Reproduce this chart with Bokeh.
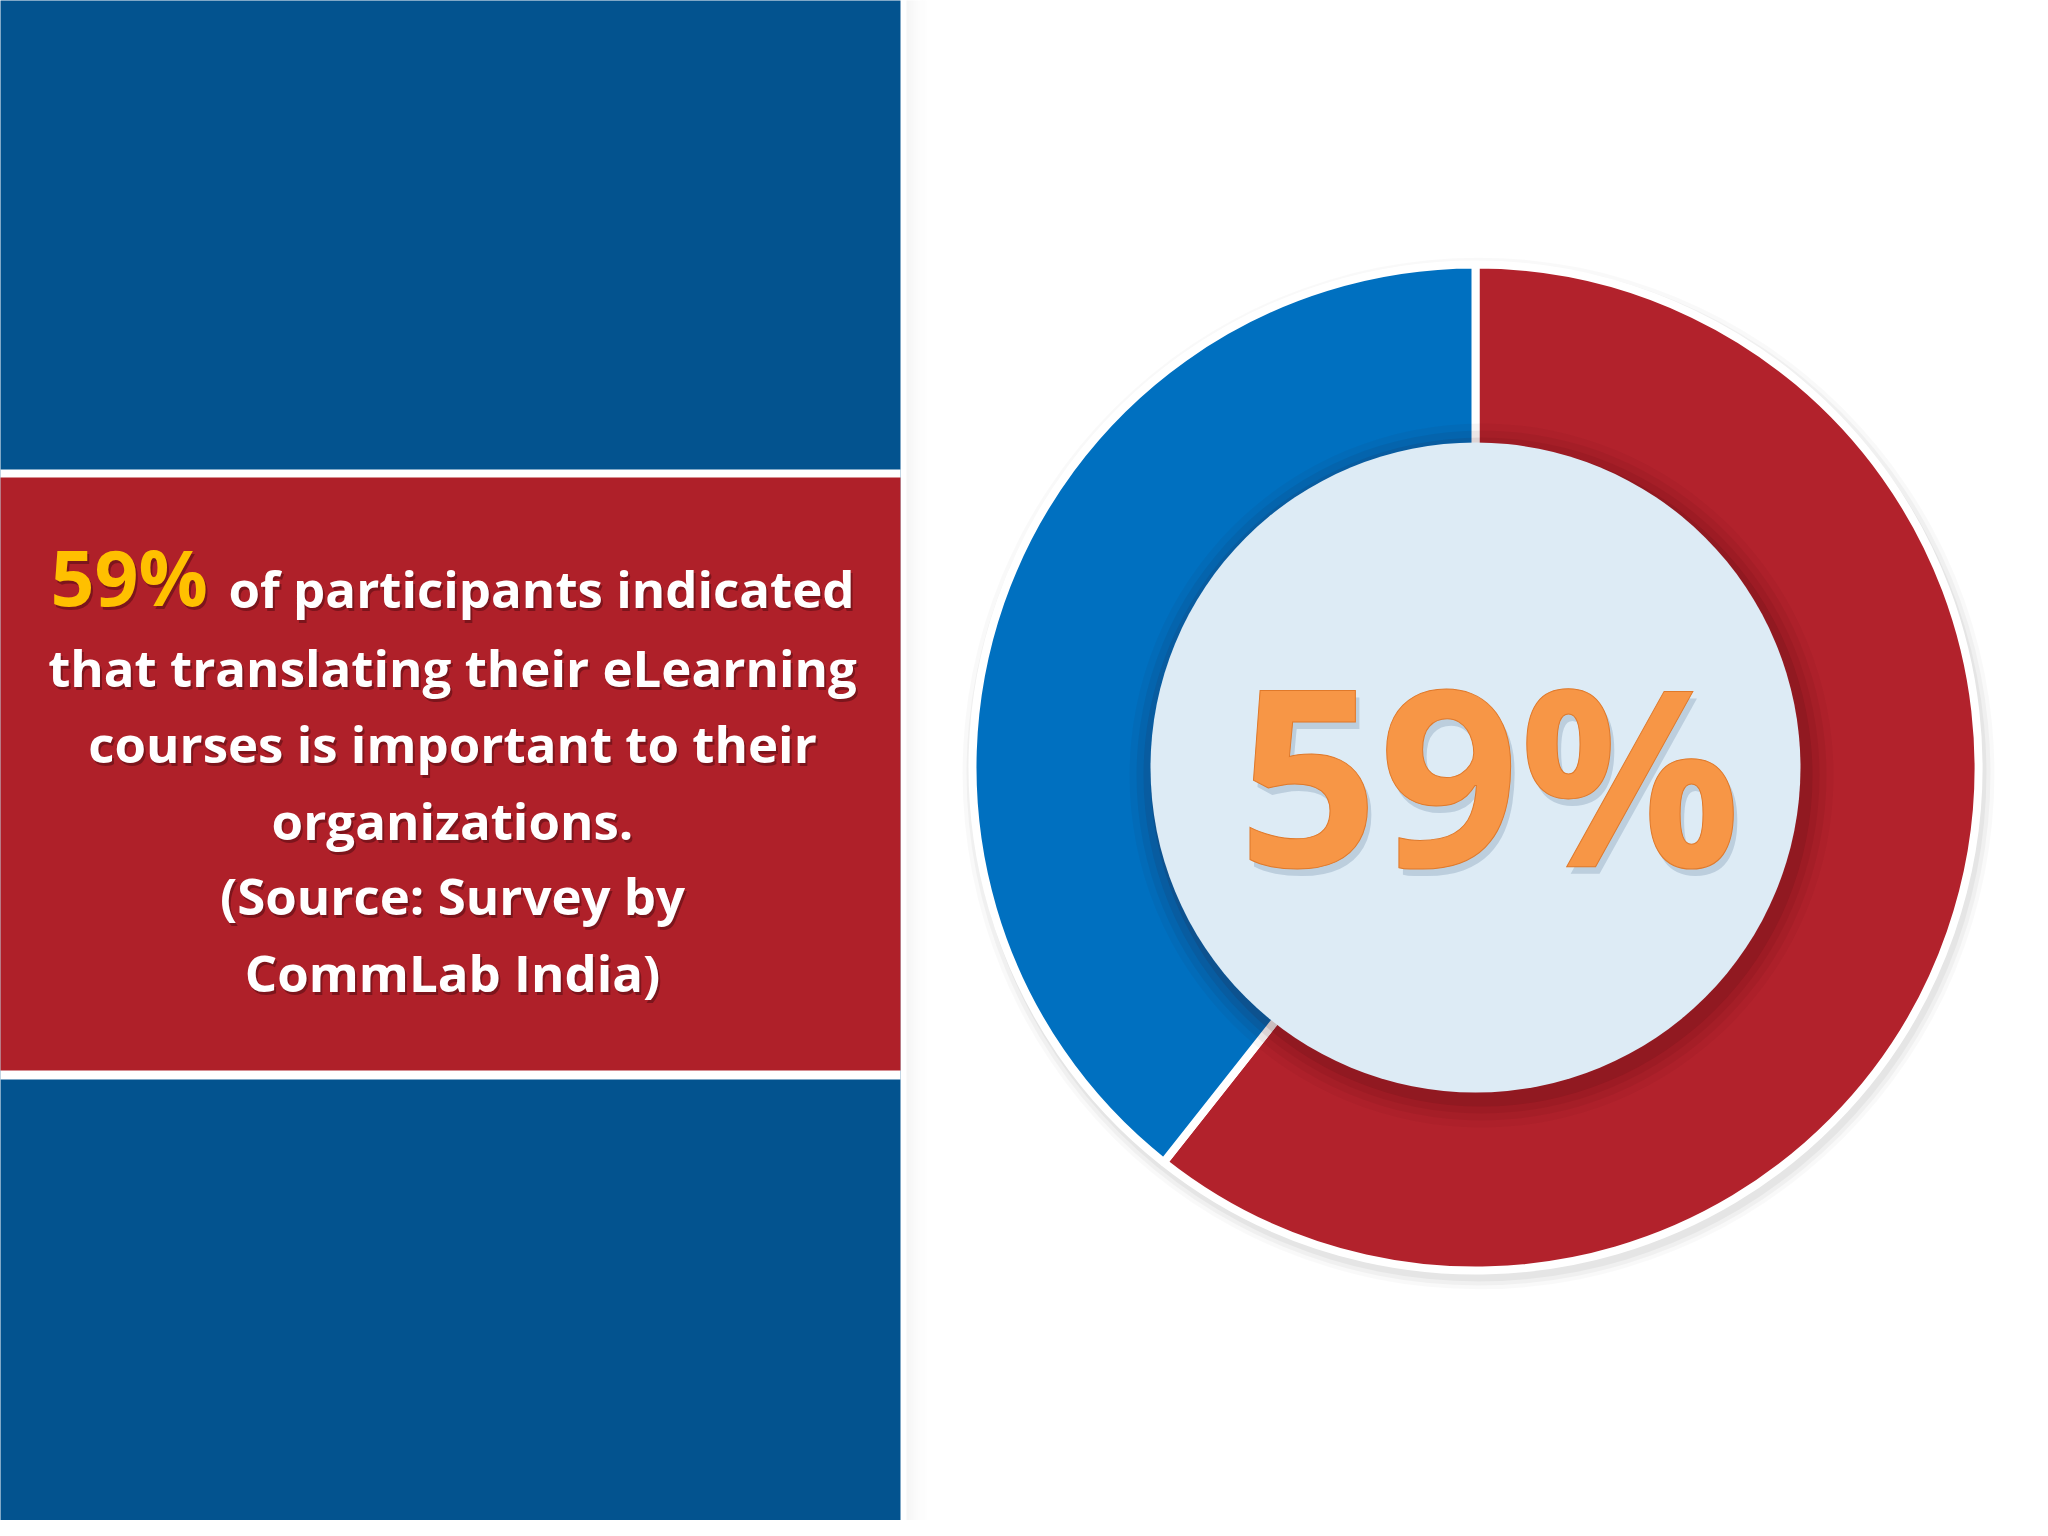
import numpy as np
from bokeh.plotting import figure
from bokeh.models import Range1d, ColumnDataSource, Text
from bokeh.core.properties import value
from bokeh.embed import file_html
from bokeh.resources import INLINE

# ---------------- data ----------------
categories = ["Important", "Not important"]
shares = [59, 38.3]
segment_colors = ["#B2222C", "#0070C0"]
headline_value = "59%"
headline_rest = "of participants indicated"
body_lines = [
    "that translating their eLearning",
    "courses is important to their",
    "organizations.",
    "(Source: Survey by",
    "CommLab India)",
]

# ---------------- layout ----------------
W, H = 2032, 1520
BASE_FIX = 0.41  # em correction so that the given y is the visual baseline


def Y(r):
    return H - np.asarray(r, dtype=float)


FONT = value("Open Sans")
HAS_OUTLINE = "text_outline_color" in Text.properties()

p = figure(width=W, height=H, x_range=Range1d(0, W), y_range=Range1d(0, H),
           output_backend="svg", toolbar_location=None, x_axis_type=None, y_axis_type=None,
           min_border=0, background_fill_color="white", border_fill_color="white",
           outline_line_color=None)
p.grid.visible = False

# left panel
p.quad(left=-20, right=900, bottom=-40, top=1600, fill_color="#03538F", line_color=None)
p.quad(left=-20, right=900, bottom=Y(1079), top=Y(469), fill_color="white", line_color=None)
p.quad(left=-20, right=900, bottom=Y(1070), top=Y(477), fill_color="#AF2029", line_color=None)
# soft shadow right of panel
for i in range(10):
    p.quad(left=906 + 2 * i, right=908 + 2 * i, bottom=-40, top=1600,
           fill_color="#808080", fill_alpha=0.07 * (10 - i) / 10, line_color=None)


def shadow_text(x, baseline, text, size, color, align, dx=2, dy=-3, salpha=0.5, scolor="#4a0a10"):
    y = Y(baseline) + BASE_FIX * size
    fs = f"{size}px"
    p.text(x=np.asarray(x) + dx, y=y + dy, text=text, text_font=FONT,
           text_font_style="bold", text_font_size=fs, text_align=align,
           text_baseline="alphabetic", text_color=scolor, text_alpha=salpha)
    p.text(x=x, y=y, text=text, text_font=FONT, text_font_style="bold",
           text_font_size=fs, text_align=align, text_baseline="alphabetic",
           text_color=color)


shadow_text([50], [608], [headline_value], 77, "#FFC000", "left")
shadow_text([228], [608], [headline_rest], 51, "white", "left")
shadow_text([452] * len(body_lines), [687, 763, 840, 915, 992], body_lines,
            51, "white", "center")

# donut
cx, cy = 1475, H - 767
R_OUT, R_IN, R_HOLE = 503, 318, 325

for r, a in [(516, 0.025), (512, 0.035), (508, 0.045)]:
    p.circle(x=[cx + 3], y=[cy - 6], radius=r, fill_color="black", fill_alpha=a, line_color=None)

total = float(sum(shares))
frac = np.cumsum([0.0] + list(shares)) / total
src = ColumnDataSource(dict(
    category=categories,
    start=np.pi / 2 - 2 * np.pi * frac[:-1],
    end=np.pi / 2 - 2 * np.pi * frac[1:],
    color=segment_colors,
    x=[cx] * len(shares), y=[cy] * len(shares),
))
p.annular_wedge(x="x", y="y", inner_radius=R_IN, outer_radius=R_OUT,
                start_angle="start", end_angle="end", direction="clock",
                fill_color="color", line_color="white", line_width=8, source=src)

# inner shadow cast by the centre disc
for r, a in [(352, 0.04), (345, 0.06), (338, 0.08), (331, 0.11)]:
    p.circle(x=[cx + 6], y=[cy - 8], radius=r, fill_color="#3a0508", fill_alpha=a, line_color=None)
p.circle(x=[cx], y=[cy], radius=R_HOLE, fill_color="#DDEBF5", line_color=None)

# big label
BIG = 246
big_y = Y([872]) + BASE_FIX * BIG
big_kw = dict(text_font=FONT, text_font_style="bold", text_font_size=f"{BIG}px",
              text_align="center", text_baseline="alphabetic")
p.text(x=[1489 + 4], y=big_y - 7, text=[headline_value], text_color="#7F98B2",
       text_alpha=0.35, **big_kw)
extra = dict(text_outline_color="#E0792A") if HAS_OUTLINE else {}
p.text(x=[1489], y=big_y, text=[headline_value], text_color="#F79646", **big_kw, **extra)

open("out.html", "w").write(file_html(p, INLINE))
